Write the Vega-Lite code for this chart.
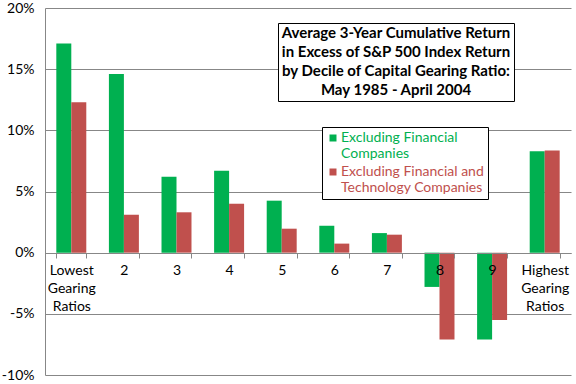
{
  "$schema": "https://vega.github.io/schema/vega-lite/v6.json",
  "width": 526,
  "height": 367,
  "autosize": {"type": "none"},
  "padding": {"left": 45, "top": 8, "right": 5, "bottom": 9},
  "background": "white",
  "config": {
    "view": {"fill": "#C0C0C0", "stroke": null},
    "font": "Lato"
  },
  "layer": [
    {
      "data": {
        "values": [
          {"decile": "Lowest Gearing Ratios", "series": "Excluding Financial Companies", "value": 17.1},
          {"decile": "Lowest Gearing Ratios", "series": "Excluding Financial and Technology Companies", "value": 12.3},
          {"decile": "2", "series": "Excluding Financial Companies", "value": 14.6},
          {"decile": "2", "series": "Excluding Financial and Technology Companies", "value": 3.1},
          {"decile": "3", "series": "Excluding Financial Companies", "value": 6.2},
          {"decile": "3", "series": "Excluding Financial and Technology Companies", "value": 3.3},
          {"decile": "4", "series": "Excluding Financial Companies", "value": 6.7},
          {"decile": "4", "series": "Excluding Financial and Technology Companies", "value": 4.0},
          {"decile": "5", "series": "Excluding Financial Companies", "value": 4.25},
          {"decile": "5", "series": "Excluding Financial and Technology Companies", "value": 1.96},
          {"decile": "6", "series": "Excluding Financial Companies", "value": 2.2},
          {"decile": "6", "series": "Excluding Financial and Technology Companies", "value": 0.74},
          {"decile": "7", "series": "Excluding Financial Companies", "value": 1.6},
          {"decile": "7", "series": "Excluding Financial and Technology Companies", "value": 1.47},
          {"decile": "8", "series": "Excluding Financial Companies", "value": -2.8},
          {"decile": "8", "series": "Excluding Financial and Technology Companies", "value": -7.1},
          {"decile": "9", "series": "Excluding Financial Companies", "value": -7.1},
          {"decile": "9", "series": "Excluding Financial and Technology Companies", "value": -5.5},
          {"decile": "Highest Gearing Ratios", "series": "Excluding Financial Companies", "value": 8.3},
          {"decile": "Highest Gearing Ratios", "series": "Excluding Financial and Technology Companies", "value": 8.35}
        ]
      },
      "mark": {"type": "bar"},
      "encoding": {
        "x": {
          "field": "decile",
          "type": "nominal",
          "sort": null,
          "scale": {"paddingInner": 0.43, "paddingOuter": 0.215},
          "axis": {
            "title": null,
            "offset": -122,
            "zindex": 1,
            "labelAngle": 0,
            "labelExpr": "split(datum.label, ' ')",
            "labelFontSize": 14,
            "labelLineHeight": 18,
            "labelColor": "#000000",
            "labelPadding": 5,
            "labelBaseline": "top",
            "tickBand": "extent",
            "tickColor": "#878787",
            "tickSize": 5,
            "domainColor": "#878787",
            "grid": false
          }
        },
        "xOffset": {
          "field": "series",
          "type": "nominal",
          "sort": ["Excluding Financial Companies", "Excluding Financial and Technology Companies"]
        },
        "y": {
          "field": "value",
          "type": "quantitative",
          "scale": {"domain": [-10, 20], "nice": false, "zero": false},
          "axis": {
            "title": null,
            "values": [-10, -5, 0, 5, 10, 15, 20],
            "labelExpr": "datum.value + '%'",
            "labelFontSize": 14,
            "labelColor": "#000000",
            "labelPadding": 11,
            "ticks": false,
            "domainColor": "#878787",
            "gridColor": "#878787",
            "gridOpacity": 1
          }
        },
        "color": {
          "field": "series",
          "type": "nominal",
          "scale": {
            "domain": ["Excluding Financial Companies", "Excluding Financial and Technology Companies"],
            "range": ["#00B050", "#C0504D"]
          },
          "legend": {
            "title": null,
            "orient": "none",
            "legendX": 277,
            "legendY": 119,
            "fillColor": "white",
            "strokeColor": "black",
            "padding": 4,
            "symbolType": "square",
            "symbolSize": 49,
            "symbolStrokeWidth": 0,
            "symbolOpacity": 1,
            "labelFontSize": 14,
            "labelLineHeight": 18,
            "labelLimit": 300,
            "labelExpr": "datum.label == 'Excluding Financial Companies' ? ['Excluding Financial', 'Companies'] : ['Excluding Financial and', 'Technology Companies']",
            "labelOffset": 1,
            "rowPadding": 4,
            "encode": {
              "labels": {
                "update": {
                  "fill": {"signal": "datum.value == 'Excluding Financial Companies' ? '#00B050' : '#C0504D'"}
                }
              }
            }
          }
        }
      }
    },
    {
      "data": {"values": [{"t": "title"}]},
      "mark": {"type": "point", "opacity": 0},
      "encoding": {
        "shape": {
          "field": "t",
          "type": "nominal",
          "legend": {
            "title": ["Average 3-Year Cumulative Return", "in Excess of S&P 500 Index Return", "by Decile of Capital Gearing Ratio:", "May 1985 - April 2004"],
            "orient": "none",
            "legendX": 233,
            "legendY": 15,
            "fillColor": "white",
            "strokeColor": "black",
            "padding": 3,
            "titleFontSize": 15,
            "titleFontWeight": "bold",
            "titleLineHeight": 19,
            "titleColor": "#000000",
            "titleAlign": "center",
            "titleAnchor": "middle",
            "titleLimit": 400,
            "titlePadding": -8,
            "symbolSize": 0,
            "symbolOpacity": 0,
            "labelFontSize": 0,
            "labelExpr": "''",
            "rowPadding": 0
          }
        }
      }
    }
  ]
}
